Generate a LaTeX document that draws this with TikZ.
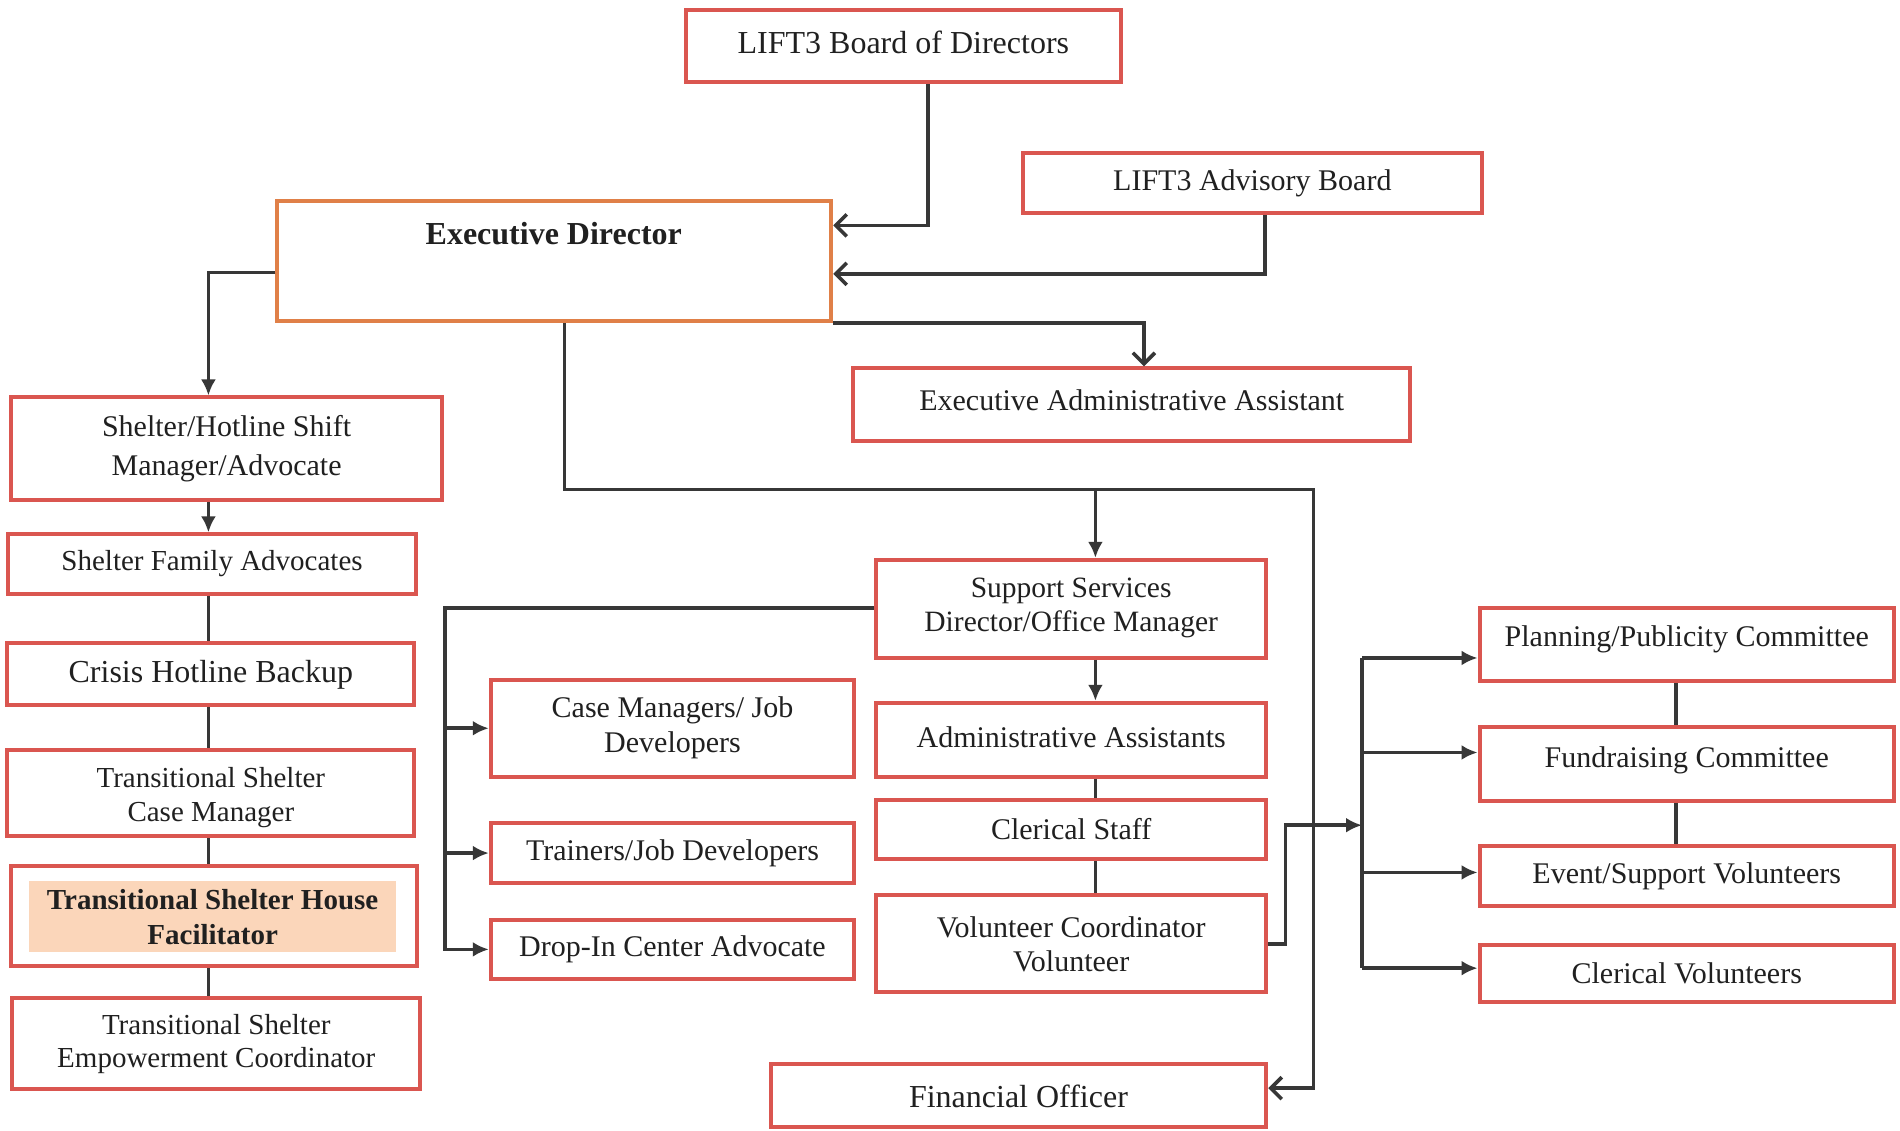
\documentclass[tikz,border=0pt]{standalone}
\usepackage{fontspec}
\setmainfont{Liberation Serif}
\usetikzlibrary{arrows.meta,fit,calc}
\definecolor{boxred}{RGB}{218,86,80}
\definecolor{edorange}{RGB}{224,128,72}
\definecolor{linegray}{RGB}{55,55,55}
\definecolor{peach}{RGB}{251,214,186}
\definecolor{txt}{RGB}{32,32,32}
\newcommand{\fsz}[2]{\fontsize{#1}{#2}\selectfont}
\begin{document}
\begin{tikzpicture}[x=1.2117pt,y=-1.2117pt,
  box/.style={draw=boxred, line width=4pt, inner sep=0pt},
  lbl/.style={inner sep=0pt, align=center, text=txt, font=\fsz{30}{35}},
  conn/.style={draw=linegray, line width=3.6pt},
  arr/.style={conn, -{Latex[length=16pt,width=15pt]}},
  oarr/.style={conn, -{Straight Barb[length=11pt,width=22pt,line width=3.6pt]}},
]
\fill[white] (0,0) rectangle (1568,933);
\useasboundingbox (0,0) rectangle (1568,933);

% boxes
\node[box, fit={(566,8)(925,68)}] (board) {};
\node[box, fit={(844,126)(1223,176)}] (adv) {};
\node[box, draw=edorange, fit={(229,166)(686,265)}] (ED) {};
\node[box, fit={(704,304)(1164,364)}] (eaa) {};
\node[box, fit={(9,328)(365,413)}] (shm) {};
\node[box, fit={(7,441)(343,490)}] (sfa) {};
\node[box, fit={(6,531)(342,582)}] (chb) {};
\node[box, fit={(6,619)(342,690)}] (tscm) {};
\node[box, fit={(9,715)(344,797)}] (tshf) {};
\node[fill=peach, inner sep=0pt, fit={(24,727)(327,786)}] (tshfill) {};
\node[box, fit={(10,824)(347,899)}] (tsec) {};
\node[box, fit={(723,462)(1045,543)}] (ss) {};
\node[box, fit={(405,561)(705,641)}] (cmjd) {};
\node[box, fit={(405,679)(705,729)}] (tjd) {};
\node[box, fit={(405,759)(705,808)}] (dia) {};
\node[box, fit={(723,580)(1045,641)}] (aa) {};
\node[box, fit={(723,660)(1045,709)}] (cs) {};
\node[box, fit={(723,739)(1045,819)}] (vc) {};
\node[box, fit={(636,878)(1045,930)}] (fo) {};
\node[box, fit={(1221,502)(1563,562)}] (ppc) {};
\node[box, fit={(1221,600)(1563,661)}] (frc) {};
\node[box, fit={(1221,698)(1563,748)}] (esv) {};
\node[box, fit={(1221,780)(1563,827)}] (clv) {};

% texts
\node[lbl, font=\fsz{32}{36}, yshift=4pt] (boardt) at (board.center) {LIFT3 Board of Directors};
\node[lbl] (advt) at (adv.center) {LIFT3 Advisory Board};
\node[lbl, font=\bfseries\fsz{32}{36}] (EDt) at (457,193) {Executive Director};
\node[lbl, yshift=4pt] (eaat) at (eaa.center) {Executive Administrative Assistant};
\node[lbl, font=\fsz{30}{39}] (shmt) at (shm.center) {Shelter/Hotline Shift\\Manager/Advocate};
\node[lbl, font=\fsz{29}{34}] (sfat) at (sfa.center) {Shelter Family Advocates};
\node[lbl, font=\fsz{32}{36}] (chbt) at (chb.center) {Crisis Hotline Backup};
\node[lbl, font=\fsz{29}{34}, yshift=-4pt] (tscmt) at (tscm.center) {Transitional Shelter\\Case Manager};
\node[lbl, font=\bfseries\fsz{29}{35}] (tshft) at (tshfill.center) {Transitional Shelter House\\Facilitator};
\node[lbl, font=\fsz{29}{33}] (tsect) at (tsec.center) {Transitional Shelter\\Empowerment Coordinator};
\node[lbl, font=\fsz{29.5}{34}, yshift=1pt] (sst) at (ss.center) {Support Services\\Director/Office Manager};
\node[lbl] (cmjdt) at (cmjd.center) {Case Managers/ Job\\Developers};
\node[lbl] (tjdt) at (tjd.center) {Trainers/Job Developers};
\node[lbl] (diat) at (dia.center) {Drop-In Center Advocate};
\node[lbl, yshift=3pt] (aat) at (aa.center) {Administrative Assistants};
\node[lbl] (cst) at (cs.center) {Clerical Staff};
\node[lbl, font=\fsz{30}{34}] (vct) at (vc.center) {Volunteer Coordinator\\Volunteer};
\node[lbl, font=\fsz{32}{36}, yshift=-1pt] (fot) at (fo.center) {Financial Officer};
\node[lbl, yshift=5pt] (ppct) at (ppc.center) {Planning/Publicity Committee};
\node[lbl, yshift=4pt] (frct) at (frc.center) {Fundraising Committee};
\node[lbl] (esvt) at (esv.center) {Event/Support Volunteers};
\node[lbl] (clvt) at (clv.center) {Clerical Volunteers};

% helper coordinates
\coordinate (b1) at (766,186);
\coordinate (b2) at (1044,226);
\coordinate (b3) at (944,265);
\coordinate (L) at (172,225);
\coordinate (M) at (466,404);
\coordinate (R) at (1084,898);
\coordinate (S) at (904,404);
\coordinate (C) at (367,502);
\coordinate (V1) at (1061,681);
\coordinate (V2) at (1124,681);
\coordinate (q1) at (1124,543);
\coordinate (q2) at (1124,621);
\coordinate (q3) at (1124,720);
\coordinate (q4) at (1124,799);
\coordinate (P) at (1383,0);

% connectors
\draw[oarr] (board.south -| b1) |- (ED.east |- b1);
\draw[oarr] (adv.south -| b2) |- (ED.east |- b2);
\draw[oarr] (ED.south east) -| (eaa.north -| b3);
\draw[arr] (ED.west |- L) -| (shm.north -| L);
\draw[arr] (shm.south -| L) -- (sfa.north -| L);
\draw[conn] (sfa.south -| L) -- (chb.north -| L);
\draw[conn] (chb.south -| L) -- (tscm.north -| L);
\draw[conn] (tscm.south -| L) -- (tshf.north -| L);
\draw[conn] (tshf.south -| L) -- (tsec.north -| L);

\draw[oarr] (ED.south -| M) |- (R |- M) -- (R) -- (fo.east |- R);
\draw[arr] (S) -- (ss.north -| S);
\draw[arr] (ss.west |- C) -| (C |- dia.west) -- (dia.west);
\draw[arr] (C |- cmjd.west) -- (cmjd.west);
\draw[arr] (C |- tjd.west) -- (tjd.west);
\draw[arr] (ss.south -| S) -- (aa.north -| S);
\draw[conn] (aa.south -| S) -- (cs.north -| S);
\draw[conn] (cs.south -| S) -- (vc.north -| S);

\draw[arr] (vc.east) -| (V1) -- (V2);
\draw[conn] (q1) -- (q4);
\draw[arr] (q1) -- (ppc.west |- q1);
\draw[arr] (q2) -- (frc.west |- q2);
\draw[arr] (q3) -- (esv.west |- q3);
\draw[arr] (q4) -- (clv.west |- q4);
\draw[conn] (ppc.south -| P) -- (frc.north -| P);
\draw[conn] (frc.south -| P) -- (esv.north -| P);
\end{tikzpicture}
\end{document}
